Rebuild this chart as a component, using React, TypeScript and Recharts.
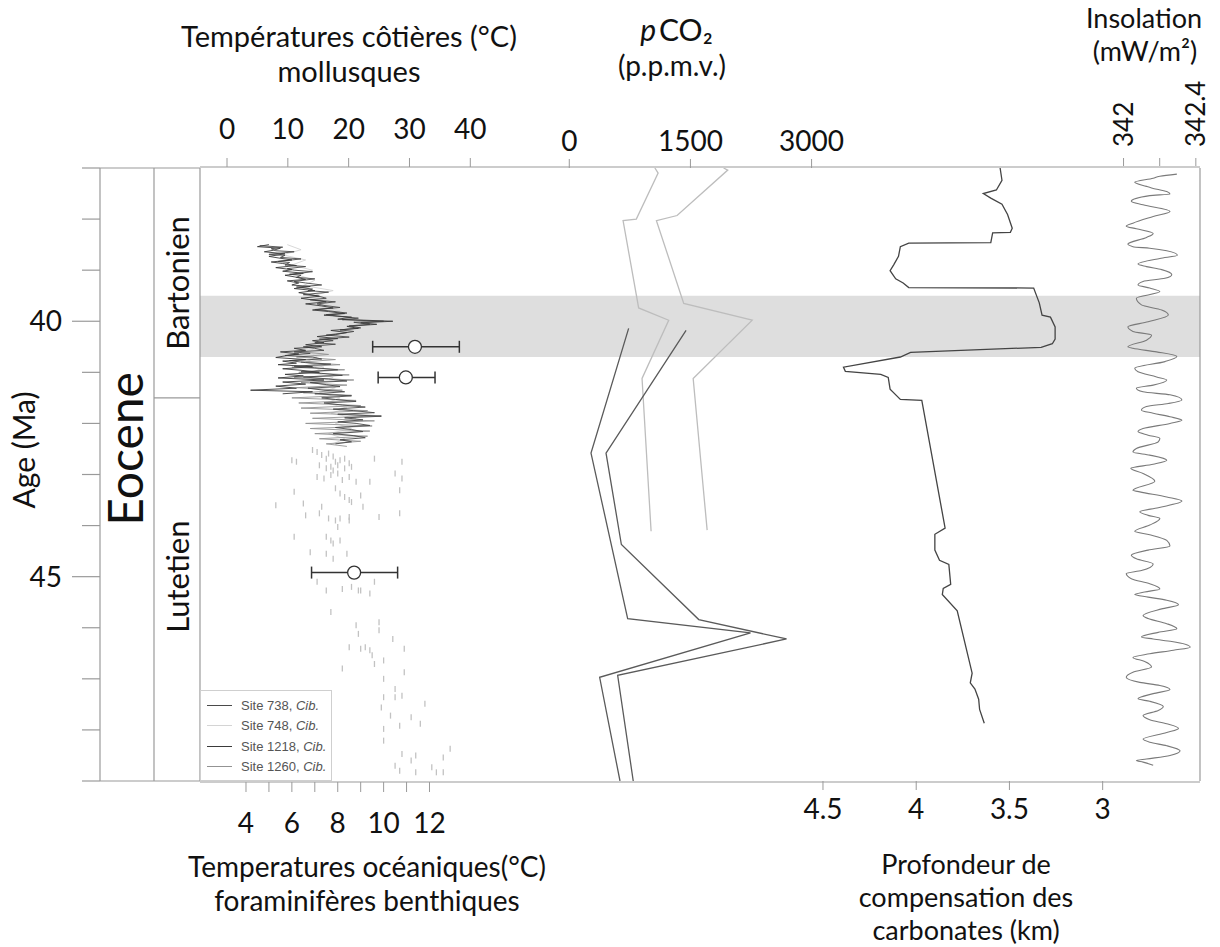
import React from "react";
import {
  ComposedChart,
  Line,
  Scatter,
  XAxis,
  YAxis,
  ReferenceArea,
  ErrorBar,
  Legend,
} from "recharts";

// Éocène moyen : températures, pCO2, CCD et insolation

const FONT = "Lato, 'DejaVu Sans', sans-serif";
const FRAME = "#9a9a9a";

// échelle d'âge (Ma)
const ageDomain = [37, 49];
const ageTicks = [37, 38, 39, 40, 41, 42, 43, 44, 45, 46, 47, 48, 49];
const ageLabels = [40, 45];
const optimumBand = [39.5, 40.7];

// colonnes stratigraphiques
const epochNames = ["Eocene"];
const epochCentres = [42.5];
const stageNames = ["Bartonien", "Lutetien"];
const stageCentres = [39.25, 45.0];
const stageBoundaries = [41.5];

// graduations des axes
const coastTicks = [0, 10, 20, 30, 40];
const oceanTicks = [4, 5, 6, 7, 8, 9, 10, 11, 12];
const co2Ticks = [0, 1500, 3000];
const ccdTicks = [4.5, 4, 3.5, 3];
const insolTicks = [342, 342.2, 342.4];
const insolLabels = [342, 342.4];

// mollusques (températures côtières)
const molluscAge = [40.5, 41.1, 44.92];
const molluscTemp = [30.9, 29.4, 20.9];
const molluscErr = [
  [6.95, 7.3],
  [4.55, 4.8],
  [7.0, 7.15],
];

// foraminifères benthiques [âge, °C]
const site738: [number, number][] = [
  [38.52, 4.6], [38.55, 5.6], [38.58, 5.1], [38.62, 5.3], [38.64, 6.1], [38.69, 5.0], [38.71, 5.7], [38.75, 5.5],
  [38.78, 6.4], [38.83, 5.4], [38.85, 5.9], [38.9, 5.7], [38.93, 6.6], [38.97, 5.8], [39.0, 6.1], [39.03, 6.9],
  [39.08, 5.9], [39.1, 6.4], [39.14, 6.2], [39.17, 7.0], [39.22, 6.1], [39.25, 6.6], [39.29, 7.3], [39.33, 6.2],
  [39.37, 6.9], [39.4, 6.7], [39.43, 7.6], [39.48, 6.5], [39.5, 7.1], [39.55, 7.5], [39.58, 6.8], [39.62, 7.9],
  [39.66, 7.1], [39.69, 7.4], [39.73, 8.1], [39.77, 7.0], [39.8, 7.7], [39.84, 8.4], [39.87, 7.5], [39.9, 8.0],
  [39.94, 8.9], [39.97, 8.2], [40.0, 10.0], [40.02, 8.7], [40.06, 9.4], [40.09, 8.5], [40.13, 9.0], [40.17, 8.1],
  [40.2, 8.7], [40.23, 8.3], [40.27, 7.5], [40.31, 8.5], [40.35, 7.2], [40.38, 7.8], [40.42, 7.0], [40.45, 7.9],
  [40.5, 6.5], [40.53, 7.0], [40.57, 7.4], [40.6, 6.1], [40.63, 6.8], [40.67, 5.7], [40.7, 6.9], [40.74, 7.3],
  [40.77, 5.9], [40.81, 6.6], [40.84, 7.7], [40.88, 6.1], [40.91, 7.0], [40.95, 8.0], [40.99, 6.4], [41.02, 7.3],
  [41.06, 8.2], [41.09, 6.5], [41.13, 7.6], [41.17, 8.4], [41.2, 6.8], [41.24, 7.5], [41.28, 8.1], [41.31, 6.7],
  [41.35, 7.4], [41.38, 8.3], [41.42, 7.0], [41.46, 8.6], [41.5, 7.3], [41.53, 7.9], [41.57, 8.8], [41.6, 7.4],
  [41.64, 8.2], [41.68, 9.2], [41.72, 7.8], [41.75, 8.7], [41.79, 9.6], [41.82, 8.0], [41.86, 9.9], [41.89, 8.3],
  [41.93, 9.1], [41.97, 8.0], [42.0, 8.8], [42.04, 9.4], [42.08, 7.9], [42.12, 8.6], [42.16, 9.1], [42.2, 7.8],
  [42.24, 8.7], [42.28, 9.2], [42.32, 8.1], [42.36, 8.6], [42.4, 7.9],
];
const site748: [number, number][] = [
  [38.5, 5.8], [38.6, 6.4], [38.7, 5.6], [38.8, 6.6], [38.9, 6.0], [39.0, 6.9], [39.1, 6.3], [39.2, 7.0],
  [39.3, 6.5], [39.4, 7.8], [39.5, 6.9], [39.6, 7.6], [39.7, 7.2], [39.8, 8.1], [39.9, 7.8], [40.0, 9.2],
  [40.1, 8.6], [40.2, 8.2], [40.3, 7.9], [40.4, 7.4], [40.5, 7.0], [40.6, 6.8], [40.7, 7.1], [40.8, 6.6],
  [40.9, 7.4], [41.0, 6.9], [41.1, 7.8], [41.2, 7.0], [41.3, 7.9], [41.4, 7.2], [41.5, 8.1], [41.6, 7.5],
  [41.7, 8.4], [41.8, 7.7], [41.9, 8.8], [42.0, 7.9], [42.1, 8.6], [42.2, 7.6], [42.3, 8.3], [42.4, 7.8],
];
const site1218: [number, number][] = [
  [38.5, 5.0], [38.54, 4.5], [38.57, 5.5], [38.61, 5.2], [38.64, 4.8], [38.68, 5.7], [38.73, 5.0], [38.76, 5.4],
  [38.8, 6.0], [38.84, 5.1], [38.87, 5.6], [38.91, 6.2], [38.95, 5.3], [38.99, 6.0], [39.02, 5.6], [39.06, 6.5],
  [39.1, 5.7], [39.13, 6.1], [39.18, 6.6], [39.21, 5.8], [39.25, 6.3], [39.29, 6.0], [39.32, 6.8], [39.36, 6.1],
  [39.4, 7.0], [39.44, 6.3], [39.47, 6.7], [39.51, 7.2], [39.55, 6.4], [39.59, 7.0], [39.62, 7.5], [39.66, 6.6],
  [39.7, 7.3], [39.74, 7.8], [39.78, 6.9], [39.81, 7.6], [39.85, 8.3], [39.88, 7.4], [39.92, 8.6], [39.96, 8.0],
  [40.0, 10.4], [40.03, 9.0], [40.06, 9.7], [40.1, 8.4], [40.14, 8.9], [40.18, 7.7], [40.22, 8.4], [40.26, 7.9],
  [40.3, 7.1], [40.34, 8.0], [40.38, 6.9], [40.42, 7.4], [40.46, 6.6], [40.5, 7.3], [40.53, 6.1], [40.57, 6.6],
  [40.6, 5.5], [40.64, 6.3], [40.67, 5.8], [40.71, 5.3], [40.75, 6.6], [40.78, 5.6], [40.82, 6.2], [40.85, 5.4],
  [40.89, 6.9], [40.93, 5.6], [40.96, 6.4], [41.0, 7.2], [41.04, 5.7], [41.07, 6.5], [41.11, 5.4], [41.15, 7.4],
  [41.19, 5.6], [41.23, 6.6], [41.27, 5.3], [41.31, 6.2], [41.35, 4.2], [41.38, 6.9], [41.42, 5.6],
];
const site1260: [number, number][] = [
  [40.6, 6.5], [40.65, 7.6], [40.7, 6.2], [40.75, 7.9], [40.8, 6.4], [40.85, 8.1], [40.9, 6.0], [40.95, 8.3],
  [41.0, 6.3], [41.05, 8.5], [41.1, 6.1], [41.15, 8.7], [41.2, 6.4], [41.25, 8.4], [41.3, 6.2], [41.35, 8.2],
  [41.4, 6.5], [41.45, 8.6], [41.5, 6.0], [41.55, 8.8], [41.6, 6.3], [41.65, 9.0], [41.7, 6.4], [41.75, 9.3],
  [41.8, 6.8], [41.85, 9.9], [41.9, 6.9], [41.95, 9.6], [42.0, 6.6], [42.05, 9.5], [42.1, 6.8], [42.15, 9.4],
  [42.2, 7.0], [42.25, 9.3], [42.3, 7.2], [42.35, 9.0], [42.4, 7.5], [42.45, 8.4],
];

// mesures isolées (Lutétien) [âge, °C]
const benthicPoints: [number, number][] = [
  [42.52, 6.9], [42.56, 7.1], [42.62, 7.3], [42.69, 7.5], [42.59, 7.6], [42.65, 7.8], [42.75, 7.9], [42.72, 8.1],
  [42.69, 8.3], [42.78, 8.5], [42.82, 7.2], [42.88, 7.5], [42.85, 7.7], [42.92, 7.8], [42.82, 8.0], [42.88, 8.3],
  [42.85, 8.6], [42.72, 6.0], [42.75, 6.2], [42.69, 9.6], [42.75, 10.8], [42.98, 10.5], [43.08, 10.8], [43.05, 7.1],
  [43.08, 7.4], [43.01, 7.7], [42.98, 8.0], [43.11, 8.2], [43.05, 8.5], [43.14, 8.8], [43.14, 9.4], [43.34, 6.1],
  [43.27, 7.9], [43.37, 8.1], [43.44, 8.3], [43.5, 8.5], [43.41, 9.0], [43.63, 9.1], [43.54, 8.6], [43.31, 10.7],
  [43.6, 5.3], [43.57, 6.5], [43.63, 7.3], [43.76, 7.2], [43.8, 6.6], [43.86, 7.6], [43.9, 7.9], [43.86, 8.1],
  [43.83, 8.5], [43.9, 8.5], [43.83, 9.8], [43.76, 10.7], [44.03, 8.0], [44.22, 6.1], [44.22, 7.5], [44.29, 7.7],
  [44.35, 7.8], [44.29, 8.1], [44.52, 6.8], [44.55, 7.5], [44.65, 7.8], [44.55, 8.4], [45.1, 7.1], [45.27, 7.5],
  [45.24, 8.2], [45.2, 8.6], [45.27, 8.9], [45.27, 9.0], [45.33, 9.4], [45.1, 9.6], [45.69, 7.7], [45.95, 8.8],
  [46.12, 8.9], [45.89, 9.8], [46.05, 9.8], [46.22, 10.4], [46.38, 8.5], [46.41, 9.0], [46.38, 9.2], [46.44, 9.4],
  [46.54, 9.5], [46.8, 8.2], [46.71, 9.6], [46.64, 10.0], [47.0, 10.0], [47.2, 10.5], [46.87, 10.9], [46.41, 10.9],
  [47.36, 10.0], [47.36, 10.5], [47.33, 10.8], [47.49, 11.8], [47.56, 9.9], [47.72, 10.3], [47.92, 10.7], [47.75, 11.2],
  [47.88, 11.6], [47.98, 10.0], [48.21, 10.0], [48.47, 10.8], [48.6, 11.2], [48.5, 11.4], [48.73, 12.1], [48.54, 12.6],
  [48.37, 12.9], [48.83, 12.3], [48.83, 12.6], [48.83, 11.4], [48.8, 10.7], [48.7, 10.5],
];

// pCO2 [âge, p.p.m.v.]
const co2UpperA: [number, number][] = [
  [37.0, 1060], [37.1, 1100], [38.0, 830], [38.03, 666], [39.74, 859], [39.98, 1231], [41.12, 901], [44.11, 1013],
];
const co2UpperB: [number, number][] = [
  [37.0, 1910], [37.04, 1962], [37.93, 1335], [38.03, 1079], [39.65, 1417], [39.98, 2265], [41.12, 1534], [44.09, 1707],
];
const co2LowerA: [number, number][] = [
  [40.14, 735], [42.58, 269], [45.82, 723], [46.1, 2244], [46.97, 376], [49.0, 628],
];
const co2LowerB: [number, number][] = [
  [40.18, 1446], [42.58, 455], [44.37, 645], [45.84, 1603], [46.22, 2690], [46.93, 599], [49.0, 792],
];

// profondeur de compensation des carbonates [âge, km]
const ccdProfile: [number, number][] = [
  [37.0, 3.55], [37.24, 3.54], [37.43, 3.57], [37.5, 3.64], [37.59, 3.6], [37.71, 3.54], [37.91, 3.51], [38.18, 3.485],
  [38.26, 3.495], [38.27, 3.59], [38.46, 3.6], [38.47, 4.04], [38.54, 4.085], [38.73, 4.095], [38.89, 4.12], [39.01, 4.14],
  [39.17, 4.11], [39.25, 4.07], [39.34, 4.04], [39.35, 3.37], [39.64, 3.34], [39.88, 3.325], [39.92, 3.28], [40.11, 3.255],
  [40.35, 3.255], [40.44, 3.27], [40.51, 3.33], [40.61, 4.03], [40.7, 4.085], [40.9, 4.39], [40.98, 4.38], [41.04, 4.19],
  [41.1, 4.15], [41.33, 4.14], [41.53, 4.085], [41.55, 3.97], [44.05, 3.845], [44.17, 3.9], [44.48, 3.9], [44.68, 3.875],
  [44.76, 3.825], [45.15, 3.815], [45.23, 3.855], [45.35, 3.86], [45.67, 3.78], [46.89, 3.7], [47.08, 3.71], [47.2, 3.685],
  [47.4, 3.665], [47.6, 3.66], [47.87, 3.635],
];

// insolation [âge, mW/m²]
const insolation: [number, number][] = [
  [37.12, 342.295], [37.16, 342.201], [37.2, 342.164], [37.28, 342.062], [37.36, 342.127], [37.39, 342.155], [37.46, 342.239],
  [37.51, 342.257], [37.54, 342.145], [37.65, 342.043], [37.72, 342.108], [37.85, 342.257], [37.95, 342.164], [38.08, 342.052],
  [38.14, 342.015], [38.19, 342.071], [38.28, 342.164], [38.36, 342.127], [38.49, 342.024], [38.54, 342.052], [38.57, 342.145],
  [38.62, 342.239], [38.71, 342.298], [38.77, 342.201], [38.88, 342.08], [38.93, 342.127], [38.99, 342.211], [39.09, 342.267],
  [39.16, 342.229], [39.22, 342.108], [39.29, 342.08], [39.35, 342.145], [39.42, 342.201], [39.55, 342.071], [39.68, 342.099],
  [39.78, 342.211], [39.88, 342.248], [40.01, 342.136], [40.11, 342.024], [40.2, 342.052], [40.27, 342.155], [40.37, 342.127],
  [40.5, 342.024], [40.53, 342.052], [40.6, 342.183], [40.69, 342.295], [40.79, 342.229], [40.92, 342.062], [40.99, 342.08],
  [41.09, 342.183], [41.15, 342.239], [41.25, 342.164], [41.31, 342.071], [41.38, 342.108], [41.44, 342.257], [41.54, 342.323],
  [41.61, 342.248], [41.67, 342.127], [41.74, 342.099], [41.8, 342.164], [41.87, 342.257], [41.94, 342.323], [42.0, 342.257],
  [42.1, 342.108], [42.16, 342.08], [42.23, 342.136], [42.29, 342.201], [42.36, 342.192], [42.49, 342.071], [42.56, 342.052],
  [42.62, 342.145], [42.72, 342.239], [42.8, 342.164], [42.88, 342.04], [42.98, 342.108], [43.13, 342.173], [43.31, 342.052],
  [43.34, 342.09], [43.44, 342.239], [43.52, 342.323], [43.65, 342.192], [43.73, 342.09], [43.8, 342.136], [43.86, 342.201],
  [43.99, 342.145], [44.11, 342.062], [44.18, 342.145], [44.29, 342.239], [44.4, 342.257], [44.48, 342.136], [44.58, 342.043],
  [44.65, 342.071], [44.75, 342.164], [44.88, 342.099], [44.94, 342.015], [45.04, 342.043], [45.14, 342.145], [45.24, 342.201],
  [45.3, 342.117], [45.35, 342.062], [45.4, 342.136], [45.46, 342.239], [45.55, 342.304], [45.63, 342.211], [45.76, 342.108],
  [45.82, 342.136], [45.92, 342.239], [46.02, 342.295], [46.09, 342.192], [46.18, 342.099], [46.22, 342.164], [46.27, 342.267],
  [46.38, 342.369], [46.44, 342.276], [46.51, 342.145], [46.58, 342.052], [46.66, 342.117], [46.77, 342.155], [46.87, 342.052],
  [46.97, 342.015], [47.07, 342.09], [47.13, 342.201], [47.21, 342.257], [47.29, 342.164], [47.39, 342.08], [47.44, 342.145],
  [47.54, 342.22], [47.62, 342.192], [47.72, 342.108], [47.8, 342.145], [47.88, 342.239], [47.97, 342.304], [48.05, 342.239],
  [48.18, 342.108], [48.24, 342.145], [48.31, 342.239], [48.41, 342.313], [48.5, 342.257], [48.57, 342.127], [48.6, 342.071],
  [48.63, 342.108], [48.69, 342.164],
];

const siteNames = ["738", "748", "1218", "1260"];
const siteColors = ["#4a4a4a", "#d4d4d4", "#3a3a3a", "#939393"];

const toTemp = (rows: [number, number][]) => rows.map(([age, temp]) => ({ age, temp }));
const molluscData = molluscAge.map((age, i) => ({ age, temp: molluscTemp[i], err: molluscErr[i] }));

const epochTicks = [ageDomain[0], ...epochCentres, ageDomain[1]];
const stageTicks = [ageDomain[0], ...stageCentres, ...stageBoundaries, ageDomain[1]].sort((a, b) => a - b);

const AGE = "c_age";

function AgeTick({ x, y, payload }: any) {
  const major = ageLabels.includes(payload.value);
  return (
    <g>
      <line x1={x - (major ? 28 : 18)} x2={x} y1={y} y2={y} stroke={FRAME} strokeWidth={1.2} />
      {major && (
        <text x={x - 38} y={y} dy="0.36em" textAnchor="end" fontSize={28} fill="#111">
          {payload.value}
        </text>
      )}
    </g>
  );
}

function RotText({ cx, cy, size, children }: any) {
  return (
    <text x={cx} y={cy} dy="0.36em" transform={`rotate(-90 ${cx} ${cy})`} textAnchor="middle" fontSize={size} fill="#111">
      {children}
    </text>
  );
}

// colonne des époques (largeur 54)
function EpochTick({ x, y, payload }: any) {
  const i = epochCentres.indexOf(payload.value);
  if (i < 0) return <line x1={x - 54} x2={x} y1={y} y2={y} stroke={FRAME} strokeWidth={1.2} />;
  return <RotText cx={x - 28} cy={y} size={48}>{epochNames[i]}</RotText>;
}

// colonne des étages (largeur 46)
function StageTick({ x, y, payload }: any) {
  const i = stageCentres.indexOf(payload.value);
  if (i < 0) return <line x1={x - 46} x2={x} y1={y} y2={y} stroke={FRAME} strokeWidth={1.2} />;
  return <RotText cx={x - 22} cy={y} size={31}>{stageNames[i]}</RotText>;
}

function OceanTick({ x, y, payload }: any) {
  if (payload.value % 2 !== 0) return <g />;
  return (
    <text x={x} y={y} dy="0.71em" textAnchor="middle" fontSize={28} fill="#111">
      {payload.value}
    </text>
  );
}

function InsolTick({ x, y, payload }: any) {
  if (!insolLabels.includes(payload.value)) return <g />;
  return (
    <text x={x} y={y} dy="0.36em" transform={`rotate(-90 ${x} ${y})`} textAnchor="start" fontSize={26} fill="#111">
      {payload.value === 342 ? "342" : payload.value.toFixed(1)}
    </text>
  );
}

const Dash = (props: any) => (
  <line x1={props.cx} x2={props.cx} y1={props.cy - 3} y2={props.cy + 3} stroke="#c2c2c2" strokeWidth={1.3} />
);

const Ring = (props: any) => <circle cx={props.cx} cy={props.cy} r={6.5} fill="#fff" stroke="#333" strokeWidth={1.3} />;

function SiteLegend() {
  return (
    <div
      style={{
        width: 132,
        height: 91,
        boxSizing: "border-box",
        border: "1px solid #cfcfcf",
        background: "#fff",
        padding: "4px 0 0 6px",
        fontFamily: "'Liberation Sans', Arial, sans-serif",
        fontSize: 13,
        color: "#555",
      }}
    >
      {siteNames.map((s, i) => (
        <div key={s} style={{ display: "flex", alignItems: "center", height: 20.5 }}>
          <span style={{ width: 25, borderTop: `1.3px solid ${siteColors[i]}`, marginRight: 9 }} />
          <span>
            Site {s}, <i>Cib.</i>
          </span>
        </div>
      ))}
    </div>
  );
}

function Titles() {
  const t = (size: number) => ({ fontSize: size, fill: "#111", textAnchor: "middle" as const });
  return (
    <svg width={1220} height={947} style={{ position: "absolute", left: 0, top: 0, pointerEvents: "none" }}>
      <text x={349} y={47} {...t(29)}>Températures côtières (°C)</text>
      <text x={349} y={82} {...t(29)}>mollusques</text>
      <text x={656} y={41} fontSize={30} fill="#111" textAnchor="end" fontStyle="italic">p</text>
      <text x={659} y={41} fontSize={30} fill="#111" textAnchor="start">CO₂</text>
      <text x={672} y={76} {...t(28)}>(p.p.m.v.)</text>
      <text x={1144} y={28} {...t(27)}>Insolation</text>
      <text x={1145} y={61} {...t(27)}>(mW/m²)</text>
      <text x={367} y={877} {...t(28)}>Temperatures océaniques(°C)</text>
      <text x={367} y={911} {...t(28)}>foraminifères benthiques</text>
      <text x={966} y={874} {...t(27)}>Profondeur de</text>
      <text x={966} y={907} {...t(27)}>compensation des</text>
      <text x={966} y={940} {...t(27)}>carbonates (km)</text>
      <text x={35} y={450} {...t(30)} transform="rotate(-90 35 450)">Age (Ma)</text>
    </svg>
  );
}

export default function App() {
  const yCommon = {
    type: "number" as const,
    dataKey: "age",
    domain: ageDomain,
    reversed: true,
    allowDataOverflow: true,
    interval: 0 as const,
    tickLine: false,
    tickSize: 0,
    tickMargin: 0,
    axisLine: { stroke: FRAME, strokeWidth: 1.2 },
  };
  return (
    <div style={{ position: "absolute", left: 0, top: 0, width: 1220, height: 947, background: "#fff", fontFamily: FONT }}>
      <ComposedChart width={1220} height={947} margin={{ top: 165, right: 19, bottom: 164, left: 0 }}>
        <XAxis
          xAxisId="coast"
          type="number"
          dataKey="temp"
          orientation="top"
          height={1}
          domain={[-4.44, 159.97]}
          allowDataOverflow
          ticks={coastTicks}
          interval={0}
          axisLine={{ stroke: FRAME, strokeWidth: 1.2 }}
          tickLine={{ stroke: FRAME }}
          tickSize={9}
          tickMargin={19}
          tick={{ fontSize: 28, fill: "#111" }}
        />
        <XAxis
          xAxisId="co2"
          type="number"
          dataKey="ppm"
          orientation="top"
          height={1}
          domain={[-4572, 7809]}
          allowDataOverflow
          ticks={co2Ticks}
          interval={0}
          axisLine={false}
          tickLine={{ stroke: FRAME }}
          tickSize={9}
          tickMargin={8}
          tick={{ fontSize: 28, fill: "#111" }}
        />
        <XAxis
          xAxisId="insol"
          type="number"
          dataKey="wm"
          orientation="top"
          height={1}
          domain={[336.891, 342.423]}
          allowDataOverflow
          ticks={insolTicks}
          interval={0}
          axisLine={false}
          tickLine={{ stroke: FRAME }}
          tickSize={8}
          tickMargin={11}
          tick={<InsolTick />}
        />
        <XAxis
          xAxisId="ocean"
          type="number"
          dataKey="temp"
          orientation="bottom"
          height={1}
          domain={[1.995, 45.59]}
          allowDataOverflow
          ticks={oceanTicks}
          interval={0}
          axisLine={{ stroke: FRAME, strokeWidth: 1.2 }}
          tickLine={{ stroke: FRAME }}
          tickSize={10}
          tickMargin={21}
          tick={<OceanTick />}
        />
        <XAxis
          xAxisId="ccd"
          type="number"
          dataKey="km"
          orientation="bottom"
          height={1}
          domain={[2.478, 7.841]}
          reversed
          allowDataOverflow
          ticks={ccdTicks}
          interval={0}
          axisLine={false}
          tickLine={{ stroke: FRAME }}
          tickSize={9}
          tickMargin={9}
          tick={{ fontSize: 28, fill: "#111" }}
        />
        <YAxis yAxisId={AGE} {...yCommon} width={100} ticks={ageTicks} tick={<AgeTick />} />
        <YAxis yAxisId="b_epoch" {...yCommon} width={54} ticks={epochTicks} tick={<EpochTick />} />
        <YAxis yAxisId="a_stage" {...yCommon} width={46} ticks={stageTicks} tick={<StageTick />} />
        <YAxis yAxisId="d_right" {...yCommon} orientation="right" width={1} tick={false} />

        <ReferenceArea
          xAxisId="ocean"
          yAxisId={AGE}
          y1={optimumBand[0]}
          y2={optimumBand[1]}
          fill="#dedede"
          fillOpacity={1}
          stroke="none"
        />

        <Scatter data={toTemp(benthicPoints)} xAxisId="ocean" yAxisId={AGE} shape={Dash} isAnimationActive={false} />
        <Line data={toTemp(site748)} xAxisId="ocean" yAxisId={AGE} dataKey="age" stroke={siteColors[1]} strokeWidth={0.9} dot={false} isAnimationActive={false} />
        <Line data={toTemp(site1260)} xAxisId="ocean" yAxisId={AGE} dataKey="age" stroke={siteColors[3]} strokeWidth={0.9} dot={false} isAnimationActive={false} />
        <Line data={toTemp(site738)} xAxisId="ocean" yAxisId={AGE} dataKey="age" stroke={siteColors[0]} strokeWidth={0.9} dot={false} isAnimationActive={false} />
        <Line data={toTemp(site1218)} xAxisId="ocean" yAxisId={AGE} dataKey="age" stroke={siteColors[2]} strokeWidth={0.9} dot={false} isAnimationActive={false} />

        <Scatter data={molluscData} xAxisId="coast" yAxisId={AGE} shape={() => <g />} isAnimationActive={false}>
          <ErrorBar dataKey="err" direction="x" width={6} stroke="#333" strokeWidth={1.5} />
        </Scatter>
        <Scatter data={molluscData} xAxisId="coast" yAxisId={AGE} shape={Ring} isAnimationActive={false} />

        <Line data={co2UpperA.map(([age, ppm]) => ({ age, ppm }))} xAxisId="co2" yAxisId={AGE} dataKey="age" stroke="#bdbdbd" strokeWidth={1.3} dot={false} isAnimationActive={false} />
        <Line data={co2UpperB.map(([age, ppm]) => ({ age, ppm }))} xAxisId="co2" yAxisId={AGE} dataKey="age" stroke="#bdbdbd" strokeWidth={1.3} dot={false} isAnimationActive={false} />
        <Line data={co2LowerA.map(([age, ppm]) => ({ age, ppm }))} xAxisId="co2" yAxisId={AGE} dataKey="age" stroke="#5a5a5a" strokeWidth={1.3} dot={false} isAnimationActive={false} />
        <Line data={co2LowerB.map(([age, ppm]) => ({ age, ppm }))} xAxisId="co2" yAxisId={AGE} dataKey="age" stroke="#5a5a5a" strokeWidth={1.3} dot={false} isAnimationActive={false} />

        <Line data={ccdProfile.map(([age, km]) => ({ age, km }))} xAxisId="ccd" yAxisId={AGE} dataKey="age" stroke="#444" strokeWidth={1.3} dot={false} isAnimationActive={false} />
        <Line data={insolation.map(([age, wm]) => ({ age, wm }))} xAxisId="insol" yAxisId={AGE} dataKey="age" type="monotoneY" stroke="#7a7a7a" strokeWidth={1.1} dot={false} isAnimationActive={false} />

        <Legend
          layout="vertical"
          align="center"
          verticalAlign="middle"
          content={<SiteLegend />}
          wrapperStyle={{ left: 200, top: 690, width: 132, height: 91 }}
        />
      </ComposedChart>
      <Titles />
    </div>
  );
}
